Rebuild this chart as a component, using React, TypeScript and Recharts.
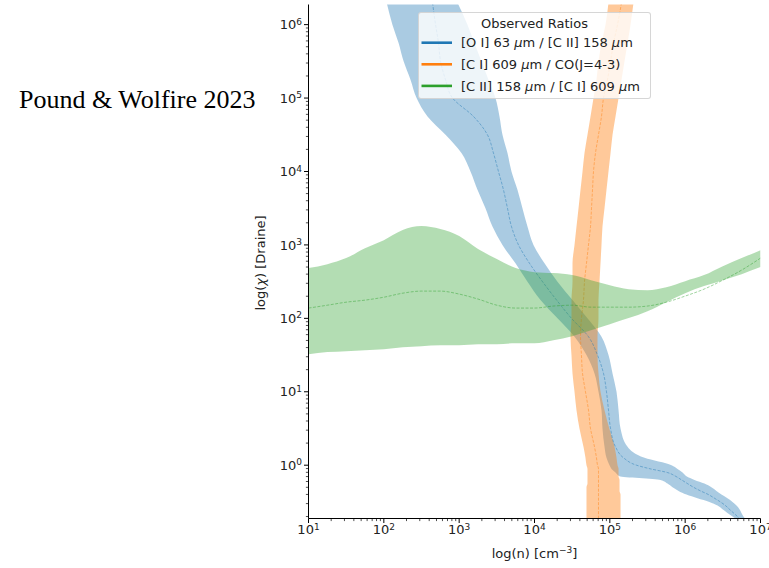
import React from 'react';
import { ComposedChart, Area, Line, XAxis, YAxis, Legend, Label } from 'recharts';

const CHART_W = 769;
const CHART_H = 568;
const FONT = '"DejaVu Sans", Verdana, sans-serif';
const SERIF = '"Liberation Serif", "Times New Roman", serif';

const X_DOMAIN: [number, number] = [10, 1e7];
const Y_DOMAIN: [number, number] = [0.188, 1.88e6];

// ---- [C II] 158 / [C I] 609 (green): chi range as a function of density n ----
const ciiDensity = [10, 17.8, 31.6, 56.2, 100, 178, 316, 562, 1000, 1780, 3160, 5620, 10000, 17800, 31600, 56200, 100000, 178000, 316000, 562000, 1000000, 1780000, 3160000, 5620000, 10000000];
const ciiChiHigh = [483, 547, 661, 904, 1161, 1592, 1803, 1641, 1318, 877, 641, 483, 426, 413, 388, 331, 283, 250, 242, 266, 321, 388, 514, 661, 849];
const ciiChiLow = [32.5, 34.7, 35.7, 36.9, 38.0, 40.5, 41.8, 43.1, 43.1, 44.5, 44.5, 45.9, 45.9, 50.5, 57.2, 69.0, 83.4, 100.7, 125, 166, 220, 275, 331, 400, 499];
const ciiChiMid = [138, 151, 166, 177, 194, 220, 235, 235, 214, 183, 151, 138, 138, 147, 151, 142, 142, 142, 147, 166, 201, 250, 331, 454, 661];

// ---- blue / orange: density range as a function of chi ----
const chiLevels = [1995000, 1000000, 562000, 316000, 178000, 100000, 56200, 31600, 17800, 10000, 5620, 3160, 1780, 1000, 562, 316, 178, 100, 56.2, 31.6, 17.8, 10, 5.62, 3.16, 1.78, 1.26, 1, 0.891, 0.794, 0.708, 0.631, 0.562, 0.501, 0.447, 0.398, 0.355, 0.316, 0.282, 0.251, 0.224, 0.2, 0.178, 0.158];

// [O I] 63 / [C II] 158 (blue)
const oiDensityLow = [109, 130, 157, 183, 226, 272, 380, 659, 1073, 1413, 1750, 2234, 2767, 3757, 5590, 8067, 12010, 20200, 33960, 49000, 62580, 70700, 77500, 79900, 84960, 90300, 99000, 105300, 119000, 134500, 471000, 583000, 680000, 817000, 1040000, 1457000, 2100000, 2690000, 3130000, 3640000, 4250000, 4950000, 5590000];
const oiDensityHigh = [949, 1289, 1596, 1977, 2449, 3033, 3428, 3757, 4377, 4947, 5940, 6920, 8067, 9690, 13580, 20200, 31950, 50500, 77500, 96000, 108600, 122700, 130500, 138700, 171800, 288800, 659400, 792000, 923000, 1040000, 1330000, 1800000, 2230000, 2600000, 3030000, 3640000, 4250000, 4800000, 5260000, 5590000, 5940000, 6510000, 7140000];
const oiDensityMid = [443, 486, 532, 566, 659, 817, 1548, 2375, 2853, 3324, 3874, 4377, 4947, 6130, 8580, 12770, 19590, 30970, 52100, 68600, 82400, 90300, 96000, 102200, 119000, 152000, 226200, 347000, 583000, 745000, 895000, 1073000, 1289000, 1596000, 2040000, 2449000, 2940000, 3430000, 3870000, 4380000, 4950000, 5420000, 5940000];

// [C I] 609 / CO(4-3) (orange)
const ciDensityLow = [96000, 87600, 77500, 70700, 66500, 60700, 55400, 50500, 46100, 43400, 40800, 38400, 36100, 33960, 31950, 31950, 30970, 30970, 30040, 30970, 31950, 33960, 36100, 39540, 44680, 47500, 49000, 50500, 50500, 50500, 50500, 50500, 49000, 49000, 49000, 49000, 49000, 49000, 49000, 49000, 49000, 49000, 49000];
const ciDensityHigh = [206300, 188300, 171800, 156700, 143000, 130500, 119000, 108600, 102200, 96000, 90300, 84960, 79900, 77500, 75200, 72900, 70700, 70700, 68600, 68600, 70700, 75200, 84960, 98400, 115400, 122700, 126500, 130500, 130500, 130500, 134500, 134500, 134500, 134500, 138700, 138700, 138700, 138700, 138700, 138700, 138700, 138700, 138700];
const ciDensityMid = [143000, 126500, 112000, 102200, 93100, 82400, 77500, 70700, 64500, 60700, 58900, 57100, 55400, 52100, 49000, 46100, 44700, 42000, 40800, 42000, 43400, 47500, 52100, 55400, 62580, 66500, 68600, 70700, 70700, 70700, 70700, 70700, 70700, 70700, 70700, 70700, 70700, 70700, 70700, 70700, 70700, 70700, 70700];

// ---- ticks and texts ----
const xMajorTicks = [10, 100, 1e3, 1e4, 1e5, 1e6, 1e7];
const yMajorTicks = [0.1, 1, 10, 100, 1e3, 1e4, 1e5, 1e6];
const minorSteps = [2, 3, 4, 5, 6, 7, 8, 9];

const TITLE = 'Pound & Wolfire 2023';
const LEGEND_TITLE = 'Observed Ratios';
const legendLabels = ['[O I] 63 μm / [C II] 158 μm', '[C I] 609 μm / CO(J=4-3)', '[C II] 158 μm / [C I] 609 μm'];
const COLORS = { blue: '#1f77b4', orange: '#ff7f0e', green: '#2ca02c' };
const legendColors = [COLORS.blue, COLORS.orange, COLORS.green];

// ---- layout ----
const M_TOP = 4.5;
const PLOT_LEFT = 308.5;
const PLOT_RIGHT = 760.5;
const PLOT_BOTTOM = 518.5;
const Y_AXIS_W = 50;
const X_AXIS_H = CHART_H - PLOT_BOTTOM;

const withMinor = (majors: number[], domain: [number, number]) => {
  const out: number[] = [];
  majors.forEach((m) => {
    out.push(m);
    minorSteps.forEach((s) => out.push(m * s));
  });
  return out.filter((v) => v >= domain[0] * 0.999 && v <= domain[1] * 1.001).sort((a, b) => a - b);
};
const xTicks = withMinor(xMajorTicks, X_DOMAIN);
const yTicks = withMinor(yMajorTicks, Y_DOMAIN);

const majorExp = (v: number): number | null => {
  const lg = Math.log10(v);
  const e = Math.round(lg);
  return Math.abs(lg - e) < 1e-6 ? e : null;
};

const greenRows = ciiDensity.map((x, i) => ({ x, band: [ciiChiLow[i], ciiChiHigh[i]], mid: ciiChiMid[i] }));
const chiRows = chiLevels.map((y, i) => ({
  y,
  oi: [oiDensityLow[i], oiDensityHigh[i]],
  oiMid: oiDensityMid[i],
  ci: [ciDensityLow[i], ciDensityHigh[i]],
  ciMid: ciDensityMid[i],
}));

const XTick = (props: any) => {
  const { x, y, payload } = props;
  const e = majorExp(payload.value);
  const major = e !== null;
  return (
    <g>
      <line x1={x} x2={x} y1={y} y2={y + (major ? 4.5 : 2.6)} stroke="#000" strokeWidth={major ? 1 : 0.7} />
      {major && (
        <text x={x} y={y + 15.5} textAnchor="middle" fontSize={13} fontFamily={FONT} fill="#222">
          10<tspan dy={-4.5} fontSize={9}>{e}</tspan>
        </text>
      )}
    </g>
  );
};

const YTick = (props: any) => {
  const { x, y, payload } = props;
  const e = majorExp(payload.value);
  const major = e !== null;
  return (
    <g>
      <line x1={x} x2={x - (major ? 4.5 : 2.6)} y1={y} y2={y} stroke="#000" strokeWidth={major ? 1 : 0.7} />
      {major && (
        <text x={x - 6.5} y={y + 4.6} textAnchor="end" fontSize={13} fontFamily={FONT} fill="#222">
          10<tspan dy={-4.5} fontSize={9}>{e}</tspan>
        </text>
      )}
    </g>
  );
};

const XAxisTitle = () => (
  <text x={(PLOT_LEFT + PLOT_RIGHT) / 2} y={558} textAnchor="middle" fontSize={13} fontFamily={FONT} fill="#222">
    log(n) [cm<tspan dy={-5} fontSize={9}>−3</tspan><tspan dy={5}>]</tspan>
  </text>
);

const YAxisTitle = () => {
  const cx = 265;
  const cy = 263;
  return (
    <text x={cx} y={cy} transform={`rotate(-90, ${cx}, ${cy})`} textAnchor="middle" fontSize={13} fontFamily={FONT} fill="#222">
      log(<tspan fontStyle="italic">χ</tspan>) [Draine]
    </text>
  );
};

const renderWithMu = (s: string) => {
  const parts = s.split('μ');
  const out: React.ReactNode[] = [];
  parts.forEach((p, i) => {
    if (i > 0) out.push(<tspan key={`m${i}`} fontStyle="italic">μ</tspan>);
    out.push(<tspan key={`t${i}`}>{p}</tspan>);
  });
  return out;
};

const LEG_W = 233;
const LEG_H = 87;
const LegendBox = () => (
  <div
    style={{
      width: LEG_W,
      height: LEG_H,
      boxSizing: 'border-box',
      border: '1px solid rgba(204,204,204,0.8)',
      borderRadius: 3,
      background: 'rgba(255,255,255,0.8)',
    }}
  >
    <svg width={LEG_W - 2} height={LEG_H - 2} style={{ display: 'block' }}>
      <text x={115.5} y={15} textAnchor="middle" fontSize={13} fontFamily={FONT} fill="#222">
        {LEGEND_TITLE}
      </text>
      {legendLabels.map((lab, i) => {
        const ly = 29.7 + i * 21.6;
        return (
          <g key={lab}>
            <line x1={2.5} x2={33} y1={ly} y2={ly} stroke={legendColors[i]} strokeWidth={2.6} />
            <text x={42} y={ly + 4.6} fontSize={13} fontFamily={FONT} fill="#222">
              {renderWithMu(lab)}
            </text>
          </g>
        );
      })}
    </svg>
  </div>
);

const MID_DASH = '3 1.5';
const MID_OPACITY = 0.45;

export default function App() {
  return (
    <div style={{ position: 'absolute', left: 0, top: 0, width: CHART_W, height: CHART_H, background: '#fff' }}>
      <svg width={300} height={130} style={{ position: 'absolute', left: 0, top: 0 }}>
        <text x={19} y={108} fontSize={26} fontFamily={SERIF} fill="#000">
          {TITLE}
        </text>
      </svg>

      {/* bands that are functions of chi (blue, orange) */}
      <div style={{ position: 'absolute', left: 0, top: 0 }}>
        <ComposedChart
          layout="vertical"
          width={CHART_W}
          height={CHART_H}
          data={chiRows}
          margin={{ top: M_TOP, right: CHART_W - PLOT_RIGHT, bottom: X_AXIS_H, left: PLOT_LEFT }}
        >
          <XAxis type="number" scale="log" domain={X_DOMAIN} allowDataOverflow hide />
          <YAxis type="number" dataKey="y" scale="log" domain={Y_DOMAIN} allowDataOverflow reversed hide />
          <Area dataKey="oi" type="monotone" stroke="none" fill={COLORS.blue} fillOpacity={0.38} isAnimationActive={false} dot={false} activeDot={false} />
          <Line dataKey="oiMid" type="monotone" stroke={COLORS.blue} strokeOpacity={MID_OPACITY} strokeWidth={1} strokeDasharray={MID_DASH} dot={false} activeDot={false} isAnimationActive={false} />
          <Area dataKey="ci" type="monotone" stroke="none" fill={COLORS.orange} fillOpacity={0.42} isAnimationActive={false} dot={false} activeDot={false} />
          <Line dataKey="ciMid" type="monotone" stroke={COLORS.orange} strokeOpacity={MID_OPACITY} strokeWidth={1} strokeDasharray={MID_DASH} dot={false} activeDot={false} isAnimationActive={false} />
        </ComposedChart>
      </div>

      {/* green band (function of n), axes, legend */}
      <div style={{ position: 'absolute', left: 0, top: 0 }}>
        <ComposedChart
          width={CHART_W}
          height={CHART_H}
          data={greenRows}
          margin={{ top: M_TOP, right: CHART_W - PLOT_RIGHT, bottom: 0, left: PLOT_LEFT - Y_AXIS_W }}
        >
          <XAxis
            type="number"
            dataKey="x"
            scale="log"
            domain={X_DOMAIN}
            allowDataOverflow
            ticks={xTicks}
            interval={0}
            tickSize={0}
            tickMargin={0}
            tickLine={false}
            tick={XTick}
            height={X_AXIS_H}
            axisLine={{ stroke: '#000', strokeWidth: 1 }}
          >
            <Label content={XAxisTitle} />
          </XAxis>
          <XAxis xAxisId="top" orientation="top" type="number" scale="log" domain={X_DOMAIN} allowDataOverflow height={0} tick={false} tickLine={false} axisLine={{ stroke: '#000', strokeWidth: 1 }} />
          <YAxis
            type="number"
            scale="log"
            domain={Y_DOMAIN}
            allowDataOverflow
            ticks={yTicks}
            interval={0}
            tickSize={0}
            tickMargin={0}
            tickLine={false}
            tick={YTick}
            width={Y_AXIS_W}
            axisLine={{ stroke: '#000', strokeWidth: 1 }}
          >
            <Label content={YAxisTitle} />
          </YAxis>
          <YAxis yAxisId="right" orientation="right" type="number" scale="log" domain={Y_DOMAIN} allowDataOverflow width={0} tick={false} tickLine={false} axisLine={{ stroke: '#000', strokeWidth: 1 }} />
          <Area dataKey="band" type="monotone" stroke="none" fill={COLORS.green} fillOpacity={0.36} isAnimationActive={false} dot={false} activeDot={false} />
          <Line dataKey="mid" type="monotone" stroke={COLORS.green} strokeOpacity={MID_OPACITY} strokeWidth={1} strokeDasharray={MID_DASH} dot={false} activeDot={false} isAnimationActive={false} />
          <Legend
            layout="vertical"
            align="center"
            verticalAlign="middle"
            wrapperStyle={{ left: 418, top: 12, width: LEG_W, height: LEG_H }}
            content={LegendBox}
          />
        </ComposedChart>
      </div>
    </div>
  );
}
